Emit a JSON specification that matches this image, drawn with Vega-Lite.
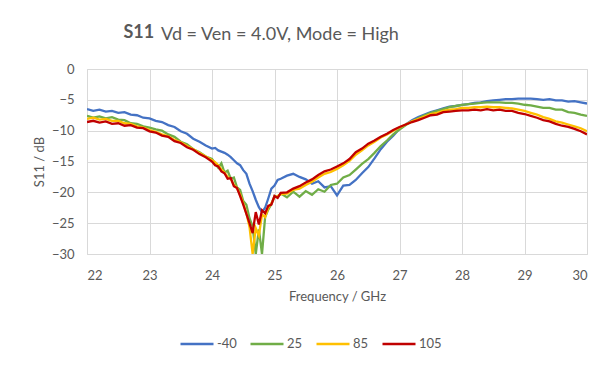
{
  "$schema": "https://vega.github.io/schema/vega-lite/v6.json",
  "autosize": "none",
  "width": 500,
  "height": 185,
  "padding": {"left": 87, "top": 69, "right": 24, "bottom": 113},
  "background": "white",
  "title": {
    "text": "Vd = Ven = 4.0V, Mode = High",
    "anchor": "start",
    "frame": "group",
    "dx": 74,
    "offset": -21,
    "font": "Lato",
    "fontSize": 18,
    "fontWeight": "normal",
    "color": "#595959"
  },
  "data": {
    "values": [
      {"f": 22.0, "-40": -6.5, "25": -7.6, "85": -8.1, "105": -8.6},
      {"f": 22.1, "-40": -6.8, "25": -7.9, "85": -7.9, "105": -8.4},
      {"f": 22.2, "-40": -6.6, "25": -7.7, "85": -8.2, "105": -8.7},
      {"f": 22.3, "-40": -6.9, "25": -8.0, "85": -8.1, "105": -8.5},
      {"f": 22.4, "-40": -6.8, "25": -7.8, "85": -8.4, "105": -8.9},
      {"f": 22.5, "-40": -7.1, "25": -8.2, "85": -8.4, "105": -8.8},
      {"f": 22.6, "-40": -7.0, "25": -8.3, "85": -8.8, "105": -9.2},
      {"f": 22.7, "-40": -7.4, "25": -8.8, "85": -8.9, "105": -9.1},
      {"f": 22.8, "-40": -7.5, "25": -8.9, "85": -9.3, "105": -9.5},
      {"f": 22.9, "-40": -7.9, "25": -9.3, "85": -9.5, "105": -9.6},
      {"f": 23.0, "-40": -8.0, "25": -9.5, "85": -9.9, "105": -10.1},
      {"f": 23.1, "-40": -8.4, "25": -9.8, "85": -10.2, "105": -10.3},
      {"f": 23.2, "-40": -8.6, "25": -10.0, "85": -10.6, "105": -10.8},
      {"f": 23.3, "-40": -9.1, "25": -10.6, "85": -10.9, "105": -11.0},
      {"f": 23.4, "-40": -9.4, "25": -11.0, "85": -11.5, "105": -11.7},
      {"f": 23.5, "-40": -10.1, "25": -11.8, "85": -11.9, "105": -12.0},
      {"f": 23.6, "-40": -10.5, "25": -12.2, "85": -12.5, "105": -12.7},
      {"f": 23.7, "-40": -11.3, "25": -13.0, "85": -13.0, "105": -13.1},
      {"f": 23.8, "-40": -11.8, "25": -13.5, "85": -13.6, "105": -13.8},
      {"f": 23.9, "-40": -12.4, "25": -14.2, "85": -14.2, "105": -14.3},
      {"f": 24.0, "-40": -12.9, "25": -14.6, "85": -14.8, "105": -15.0},
      {"f": 24.05, "-40": -12.8, "25": -15.3, "85": -15.1, "105": -15.6},
      {"f": 24.1, "-40": -13.2, "25": -16.0, "85": -15.6, "105": -15.8},
      {"f": 24.15, "-40": -13.4, "25": -15.3, "85": -16.3, "105": -16.6},
      {"f": 24.2, "-40": -13.6, "25": -16.8, "85": -16.8, "105": -16.9},
      {"f": 24.25, "-40": -13.9, "25": -16.5, "85": -17.5, "105": -17.8},
      {"f": 24.3, "-40": -14.3, "25": -17.8, "85": -17.8, "105": -17.7},
      {"f": 24.35, "-40": -14.8, "25": -17.6, "85": -18.8, "105": -19.0},
      {"f": 24.4, "-40": -15.3, "25": -19.2, "85": -19.3, "105": -19.3},
      {"f": 24.45, "-40": -15.6, "25": -19.6, "85": -20.4, "105": -20.6},
      {"f": 24.5, "-40": -16.4, "25": -21.4, "85": -21.8, "105": -22.0},
      {"f": 24.55, "-40": -17.0, "25": -22.0, "85": -23.4, "105": -23.5},
      {"f": 24.6, "-40": -18.6, "25": -24.2, "85": -25.6, "105": -25.0},
      {"f": 24.65, "-40": -19.8, "25": -25.5, "85": -30, "105": -26.6},
      {"f": 24.7, "-40": -21.2, "25": -30, "85": -25.8, "105": -23.2},
      {"f": 24.75, "-40": -22.4, "25": -26.0, "85": -27.0, "105": -25.2},
      {"f": 24.8, "-40": -23.2, "25": -30, "85": -23.6, "105": -22.9},
      {"f": 24.85, "-40": -22.5, "25": -24.0, "85": -24.0, "105": -23.4},
      {"f": 24.9, "-40": -21.0, "25": -22.8, "85": -22.5, "105": -22.2},
      {"f": 24.95, "-40": -19.4, "25": -21.9, "85": -21.8, "105": -22.0},
      {"f": 25.0, "-40": -18.9, "25": -20.6, "85": -20.8, "105": -20.6},
      {"f": 25.05, "-40": -18.0, "25": -20.8, "85": -20.6, "105": -20.9},
      {"f": 25.1, "-40": -17.8, "25": -20.2, "85": -20.3, "105": -20.1},
      {"f": 25.2, "-40": -17.3, "25": -20.8, "85": -20.2, "105": -20.0},
      {"f": 25.3, "-40": -17.0, "25": -19.9, "85": -19.6, "105": -19.4},
      {"f": 25.4, "-40": -17.5, "25": -20.7, "85": -19.4, "105": -19.0},
      {"f": 25.5, "-40": -17.9, "25": -19.8, "85": -18.8, "105": -18.4},
      {"f": 25.6, "-40": -18.6, "25": -20.4, "85": -18.3, "105": -17.9},
      {"f": 25.7, "-40": -18.2, "25": -19.5, "85": -17.6, "105": -17.2},
      {"f": 25.8, "-40": -19.2, "25": -19.9, "85": -17.0, "105": -16.6},
      {"f": 25.9, "-40": -19.0, "25": -18.8, "85": -16.7, "105": -16.3},
      {"f": 26.0, "-40": -20.5, "25": -18.6, "85": -16.2, "105": -15.8},
      {"f": 26.1, "-40": -18.9, "25": -17.6, "85": -15.6, "105": -15.3},
      {"f": 26.2, "-40": -18.8, "25": -17.2, "85": -14.9, "105": -14.6},
      {"f": 26.3, "-40": -18.0, "25": -16.3, "85": -13.9, "105": -13.5},
      {"f": 26.4, "-40": -16.9, "25": -15.4, "85": -13.2, "105": -12.9},
      {"f": 26.5, "-40": -15.9, "25": -14.6, "85": -12.4, "105": -12.1},
      {"f": 26.6, "-40": -14.5, "25": -13.6, "85": -11.8, "105": -11.6},
      {"f": 26.7, "-40": -13.0, "25": -12.5, "85": -11.1, "105": -11.0},
      {"f": 26.8, "-40": -11.8, "25": -11.6, "85": -10.6, "105": -10.5},
      {"f": 26.9, "-40": -10.8, "25": -10.6, "85": -10.0, "105": -9.9},
      {"f": 27.0, "-40": -9.7, "25": -9.8, "85": -9.5, "105": -9.4},
      {"f": 27.1, "-40": -9.0, "25": -9.1, "85": -9.0, "105": -9.0},
      {"f": 27.2, "-40": -8.3, "25": -8.5, "85": -8.5, "105": -8.6},
      {"f": 27.3, "-40": -7.8, "25": -8.0, "85": -8.1, "105": -8.3},
      {"f": 27.4, "-40": -7.4, "25": -7.5, "85": -7.7, "105": -7.9},
      {"f": 27.5, "-40": -7.0, "25": -7.1, "85": -7.3, "105": -7.5},
      {"f": 27.6, "-40": -6.7, "25": -6.8, "85": -7.1, "105": -7.4},
      {"f": 27.7, "-40": -6.4, "25": -6.5, "85": -6.8, "105": -7.0},
      {"f": 27.8, "-40": -6.1, "25": -6.2, "85": -6.6, "105": -6.9},
      {"f": 27.9, "-40": -6.0, "25": -6.0, "85": -6.5, "105": -6.8},
      {"f": 28.0, "-40": -5.8, "25": -5.8, "85": -6.3, "105": -6.7},
      {"f": 28.1, "-40": -5.7, "25": -5.7, "85": -6.3, "105": -6.7},
      {"f": 28.2, "-40": -5.5, "25": -5.6, "85": -6.2, "105": -6.6},
      {"f": 28.3, "-40": -5.4, "25": -5.5, "85": -6.2, "105": -6.7},
      {"f": 28.4, "-40": -5.2, "25": -5.4, "85": -6.1, "105": -6.5},
      {"f": 28.5, "-40": -5.1, "25": -5.4, "85": -6.2, "105": -6.7},
      {"f": 28.6, "-40": -5.0, "25": -5.4, "85": -6.2, "105": -6.6},
      {"f": 28.7, "-40": -4.9, "25": -5.5, "85": -6.3, "105": -6.8},
      {"f": 28.8, "-40": -4.9, "25": -5.5, "85": -6.4, "105": -6.8},
      {"f": 28.9, "-40": -4.8, "25": -5.6, "85": -6.6, "105": -7.1},
      {"f": 29.0, "-40": -4.8, "25": -5.8, "85": -6.8, "105": -7.3},
      {"f": 29.1, "-40": -4.8, "25": -5.9, "85": -7.1, "105": -7.6},
      {"f": 29.2, "-40": -4.9, "25": -6.1, "85": -7.4, "105": -7.9},
      {"f": 29.3, "-40": -5.0, "25": -6.3, "85": -7.8, "105": -8.3},
      {"f": 29.4, "-40": -4.9, "25": -6.3, "85": -8.1, "105": -8.5},
      {"f": 29.5, "-40": -5.1, "25": -6.6, "85": -8.5, "105": -8.9},
      {"f": 29.6, "-40": -5.1, "25": -6.6, "85": -8.7, "105": -9.2},
      {"f": 29.7, "-40": -5.3, "25": -7.0, "85": -9.0, "105": -9.4},
      {"f": 29.8, "-40": -5.2, "25": -7.1, "85": -9.3, "105": -9.7},
      {"f": 29.9, "-40": -5.4, "25": -7.4, "85": -9.6, "105": -10.1},
      {"f": 30.0, "-40": -5.6, "25": -7.6, "85": -10.1, "105": -10.6}
    ]
  },
  "transform": [
    {"fold": ["-40", "25", "85", "105"], "as": ["series", "value"]}
  ],
  "resolve": {"axis": {"x": "independent"}},
  "layer": [
    {
      "mark": {"type": "line", "strokeWidth": 2.3, "clip": true},
      "encoding": {
        "x": {
          "field": "f",
          "type": "quantitative",
          "scale": {"domain": [22, 30], "nice": false, "zero": false},
          "axis": {
            "orient": "bottom",
            "title": "Frequency / GHz",
            "values": [22, 23, 24, 25, 26, 27, 28, 29, 30],
            "format": "d",
            "grid": true,
            "gridColor": "#D9D9D9",
            "gridWidth": 1,
            "domain": false,
            "ticks": false,
            "labelPadding": 15,
            "labelFont": "Lato",
            "labelFontSize": 13,
            "labelColor": "#595959",
            "titleFont": "Lato",
            "titleFontSize": 13,
            "titleFontWeight": "normal",
            "titleColor": "#595959",
            "titlePadding": 8
          }
        },
        "y": {
          "field": "value",
          "type": "quantitative",
          "scale": {"domain": [-30, 0], "nice": false, "zero": false},
          "axis": {
            "title": "S11 / dB",
            "values": [-30, -25, -20, -15, -10, -5, 0],
            "grid": true,
            "gridColor": "#D9D9D9",
            "gridWidth": 1,
            "domain": false,
            "ticks": false,
            "labelPadding": 13,
            "labelFont": "Lato",
            "labelFontSize": 13,
            "labelColor": "#595959",
            "titleFont": "Lato",
            "titleFontSize": 13,
            "titleFontWeight": "normal",
            "titleColor": "#595959",
            "titlePadding": 5
          }
        },
        "color": {
          "field": "series",
          "type": "nominal",
          "sort": ["-40", "25", "85", "105"],
          "scale": {
            "domain": ["-40", "25", "85", "105"],
            "range": ["#4472C4", "#70AD47", "#FFC000", "#C00000"]
          },
          "legend": {
            "title": null,
            "orient": "none",
            "legendX": 92,
            "legendY": 257,
            "direction": "horizontal",
            "symbolType": "stroke",
            "symbolSize": 1089,
            "symbolStrokeWidth": 2.5,
            "labelFont": "Lato",
            "labelFontSize": 13,
            "labelColor": "#595959",
            "labelOffset": 2,
            "columnPadding": 8
          }
        }
      }
    },
    {
      "mark": {"type": "rule", "strokeOpacity": 0},
      "encoding": {
        "x": {
          "datum": 22,
          "type": "quantitative",
          "axis": {
            "orient": "top",
            "title": "S11",
            "labels": false,
            "ticks": false,
            "grid": false,
            "domain": false,
            "titleFont": "Lato",
            "titleFontSize": 18,
            "titleFontWeight": "bold",
            "titleColor": "#595959",
            "titleAlign": "left",
            "titleBaseline": "alphabetic",
            "titleAnchor": "start",
            "titleX": 36,
            "titleY": -32
          }
        }
      }
    }
  ],
  "config": {
    "view": {"stroke": "#D9D9D9"}
  }
}
